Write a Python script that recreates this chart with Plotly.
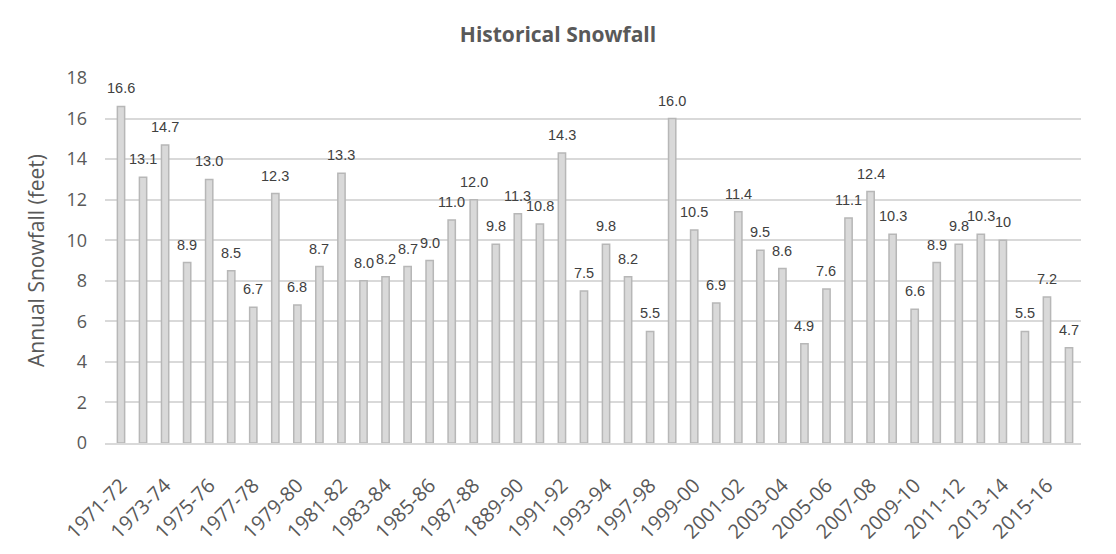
"""Historical snowfall bar chart recreated with Plotly."""

import plotly.graph_objects as go

seasons = [
    "1971-72", "1972-73", "1973-74", "1974-75", "1975-76", "1976-77",
    "1977-78", "1978-79", "1979-80", "1980-81", "1981-82", "1982-83",
    "1983-84", "1984-85", "1985-86", "1986-87", "1987-88", "1988-89",
    "1889-90", "1990-91", "1991-92", "1992-93", "1993-94", "1994-95",
    "1997-98", "1998-99", "1999-00", "2000-01", "2001-02", "2002-03",
    "2003-04", "2004-05", "2005-06", "2006-07", "2007-08", "2008-09",
    "2009-10", "2010-11", "2011-12", "2012-13", "2013-14", "2014-15",
    "2015-16", "2016-17",
]

snowfall = [
    16.6, 13.1, 14.7, 8.9, 13.0, 8.5, 6.7, 12.3, 6.8, 8.7, 13.3, 8.0,
    8.2, 8.7, 9.0, 11.0, 12.0, 9.8, 11.3, 10.8, 14.3, 7.5, 9.8, 8.2,
    5.5, 16.0, 10.5, 6.9, 11.4, 9.5, 8.6, 4.9, 7.6, 11.1, 12.4, 10.3,
    6.6, 8.9, 9.8, 10.3, 10, 5.5, 7.2, 4.7,
]

value_labels = [
    "16.6", "13.1", "14.7", "8.9", "13.0", "8.5", "6.7", "12.3", "6.8",
    "8.7", "13.3", "8.0", "8.2", "8.7", "9.0", "11.0", "12.0", "9.8",
    "11.3", "10.8", "14.3", "7.5", "9.8", "8.2", "5.5", "16.0", "10.5",
    "6.9", "11.4", "9.5", "8.6", "4.9", "7.6", "11.1", "12.4", "10.3",
    "6.6", "8.9", "9.8", "10.3", "10", "5.5", "7.2", "4.7",
]

# every other season gets a tick label
tick_seasons = seasons[::2]

y_ticks = [0, 2, 4, 6, 8, 10, 12, 14, 16, 18]

GRID = "#d9d9d9"
AXIS_TEXT = "#595959"

fig = go.Figure()

fig.add_trace(go.Bar(
    x=seasons, y=snowfall,
    marker=dict(color="#d9d9d9", line=dict(color="#b7b7b7", width=1.5)),
    width=0.33,
    showlegend=False,
))

# value labels sit a little above each bar
for season, value, label in zip(seasons, snowfall, value_labels):
    fig.add_annotation(
        x=season, y=value, text=label,
        showarrow=False, yanchor="bottom", yshift=8,
        font=dict(family="Liberation Sans, Arial", size=14.5, color="#404040"),
    )

# page body keeps an 8px margin, so the figure is 16px smaller than the window
fig.update_layout(
    width=1100, height=538,
    margin=dict(l=97, r=27, t=70, b=103),
    paper_bgcolor="white", plot_bgcolor="white",
    title=dict(
        text="<b>Historical Snowfall</b>",
        font=dict(family="Open Sans", size=21, color=AXIS_TEXT),
        x=0.5, xanchor="center", y=0.95, yanchor="middle",
    ),
    xaxis=dict(
        type="category", automargin=False,
        tickmode="array", tickvals=tick_seasons, ticktext=tick_seasons,
        tickangle=-45, ticklabelstandoff=21,
        tickfont=dict(family="Open Sans", size=20, color=AXIS_TEXT),
        showgrid=False, showline=True, linecolor=GRID, linewidth=1.5,
        ticks="",
    ),
    yaxis=dict(
        automargin=False,
        title=dict(text="Annual Snowfall (feet)", standoff=16,
                   font=dict(family="Open Sans", size=21, color=AXIS_TEXT)),
        range=[0, 18], tickvals=y_ticks,
        tickfont=dict(family="Open Sans", size=18, color=AXIS_TEXT),
        showgrid=True, gridcolor=GRID, gridwidth=1.5,
        zeroline=False, ticks="", ticklabelstandoff=17,
    ),
    bargap=0.7,
)

fig.write_html("out.html")
